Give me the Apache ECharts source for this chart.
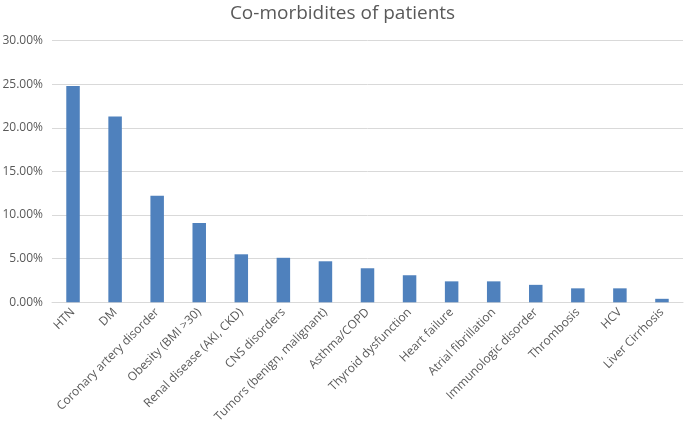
<!DOCTYPE html>
<html>
<head>
<meta charset="utf-8">
<script src="https://cdn.jsdelivr.net/npm/echarts@6/dist/echarts.min.js"></script>
<style>
html,body{margin:0;padding:0;background:#fff;}
#main{width:685px;height:425px;}
</style>
</head>
<body>
<div id="main"></div>
<script>
const categories = ["HTN","DM","Coronary artery disorder","Obesity (BMI >30)","Renal disease (AKI, CKD)","CNS disorders","Tumors (benign, malignant)","Asthma/COPD","Thyroid dysfunction","Heart failure","Atrial fibrillation","Immunologic disorder","Thrombosis","HCV","Liver Cirrhosis"];
const values = [24.8, 21.3, 12.2, 9.1, 5.5, 5.1, 4.7, 3.9, 3.1, 2.4, 2.4, 2.0, 1.6, 1.6, 0.4];
const yTicks = [0, 5, 10, 15, 20, 25, 30];
const titleText = "Co-morbidites of patients";

const chart = echarts.init(document.getElementById('main'));
const font = "'Open Sans', 'Noto Sans', sans-serif";
chart.setOption({
  animation: false,
  title: {
    text: titleText, left: 'center', top: -1,
    textStyle: {fontFamily: font, fontSize: 19, fontWeight: 'normal', color: '#595959'}
  },
  grid: {left: 52, right: 2, top: 40.5, bottom: 122.7, containLabel: false, outerBoundsMode: 'none'},
  xAxis: {
    type: 'category', data: categories,
    axisLine: {lineStyle: {color: '#d9d9d9', width: 1}},
    axisTick: {show: false},
    axisLabel: {rotate: 45, interval: 0, margin: 8, color: '#595959', fontSize: 12, fontFamily: font}
  },
  yAxis: {
    type: 'value', min: yTicks[0], max: yTicks[yTicks.length-1], interval: 5,
    axisLine: {show: false}, axisTick: {show: false},
    splitLine: {lineStyle: {color: '#d9d9d9', width: 1}},
    axisLabel: {formatter: v => v.toFixed(2) + '%', color: '#595959', fontSize: 12, fontFamily: font, margin: 9}
  },
  series: [{
    type: 'bar', data: values, barWidth: 13.5,
    itemStyle: {color: '#4f81bd'}
  }]
});
</script>
</body>
</html>
